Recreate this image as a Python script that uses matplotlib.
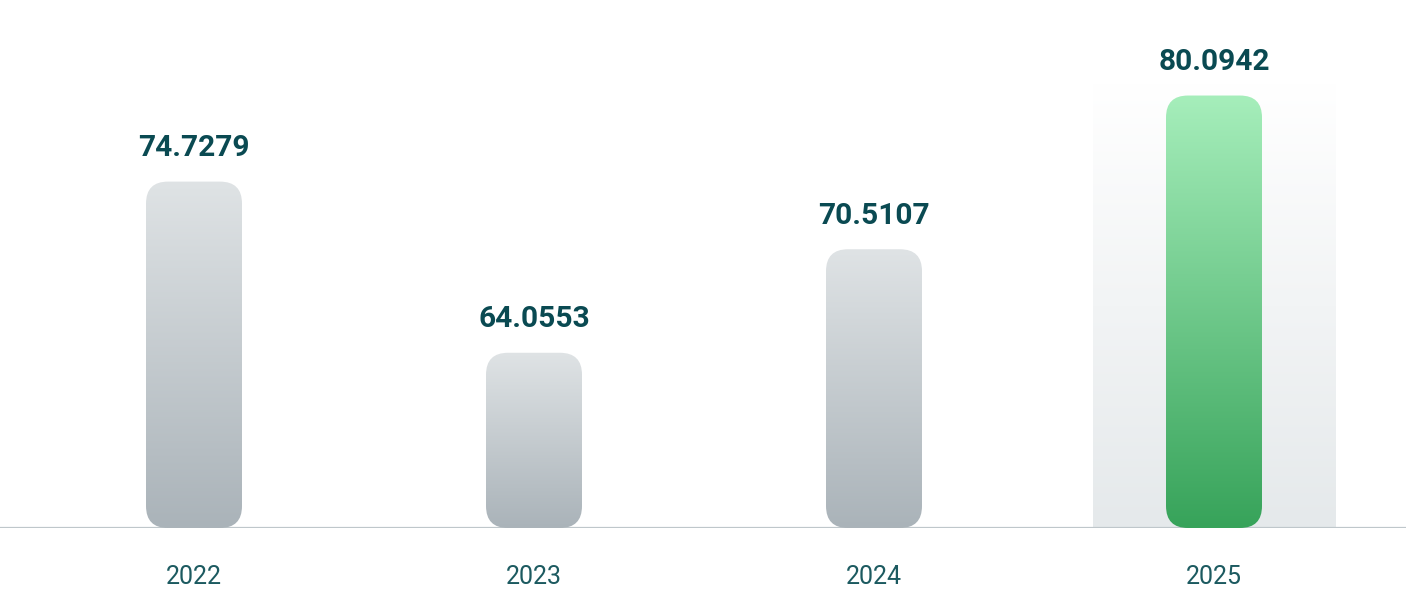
import numpy as np
import matplotlib
matplotlib.use("Agg")
import matplotlib.pyplot as plt
from matplotlib.patches import FancyBboxPatch
from matplotlib.colors import LinearSegmentedColormap

years = ["2022", "2023", "2024", "2025"]
values = [74.7279, 64.0553, 70.5107, 80.0942]
highlight = 3

plt.rcParams['font.family'] = ['Roboto', 'DejaVu Sans']

W, H = 1406, 600
fig = plt.figure(figsize=(W / 100, H / 100), dpi=100)
base_px = 72  # baseline distance from the bottom, px
ax = fig.add_axes([0, base_px / H, 1, 1 - base_px / H])

x = np.arange(len(years))
ymin, ymax = 53.13, 86.05
ax.set_xlim(-0.5706, 3.5647)
ax.set_ylim(ymin, ymax)
ax.axis("off")

# pixels per data unit, for round corners that stay round
px_x = W / (3.5647 + 0.5706)
px_y = (H - base_px) / (ymax - ymin)
aspect = px_x / px_y

gray = LinearSegmentedColormap.from_list("g", ["#aab3b9", "#dfe3e5"])
green = LinearSegmentedColormap.from_list("gr", ["#37a35a", "#a6eebb"])
grad = np.linspace(0, 1, 256).reshape(-1, 1)

# soft highlight column behind the last bar
hl = LinearSegmentedColormap.from_list("hl", ["#e5e9eb", "#ffffff"])
hw = 0.356
ax.imshow(grad, cmap=hl, origin="lower", aspect="auto",
          extent=[highlight - hw, highlight + hw, ymin, ymin + 445 / px_y],
          zorder=0)

# baseline
ax.axhline(ymin, color="#bfc7cb", lw=1.6, zorder=1)

bw = 96 / px_x
r = 22 / px_x
for i, v in enumerate(values):
    patch = FancyBboxPatch((i - bw / 2, ymin), bw, v - ymin,
                           boxstyle=f"round,pad=0,rounding_size={r}",
                           mutation_aspect=aspect, fc="none", ec="none",
                           transform=ax.transData)
    ax.add_patch(patch)
    cm = green if i == highlight else gray
    im = ax.imshow(grad, cmap=cm, origin="lower", aspect="auto",
                   extent=[i - bw / 2, i + bw / 2, ymin, v], zorder=2)
    im.set_clip_path(patch)
    ax.annotate(f"{v:.4f}", (i, v), xytext=(0, 24), textcoords="offset points",
                ha="center", va="center", fontsize=21.5, fontweight="bold",
                color="#0a4a52")
    ax.annotate(years[i], (i, ymin), xytext=(0, -35), textcoords="offset points",
                ha="center", va="center", fontsize=18, color="#1c5a60",
                annotation_clip=False)

ax.set_xlim(-0.5706, 3.5647)
ax.set_ylim(ymin, ymax)
fig.savefig("out.png", dpi=100, facecolor="white")
